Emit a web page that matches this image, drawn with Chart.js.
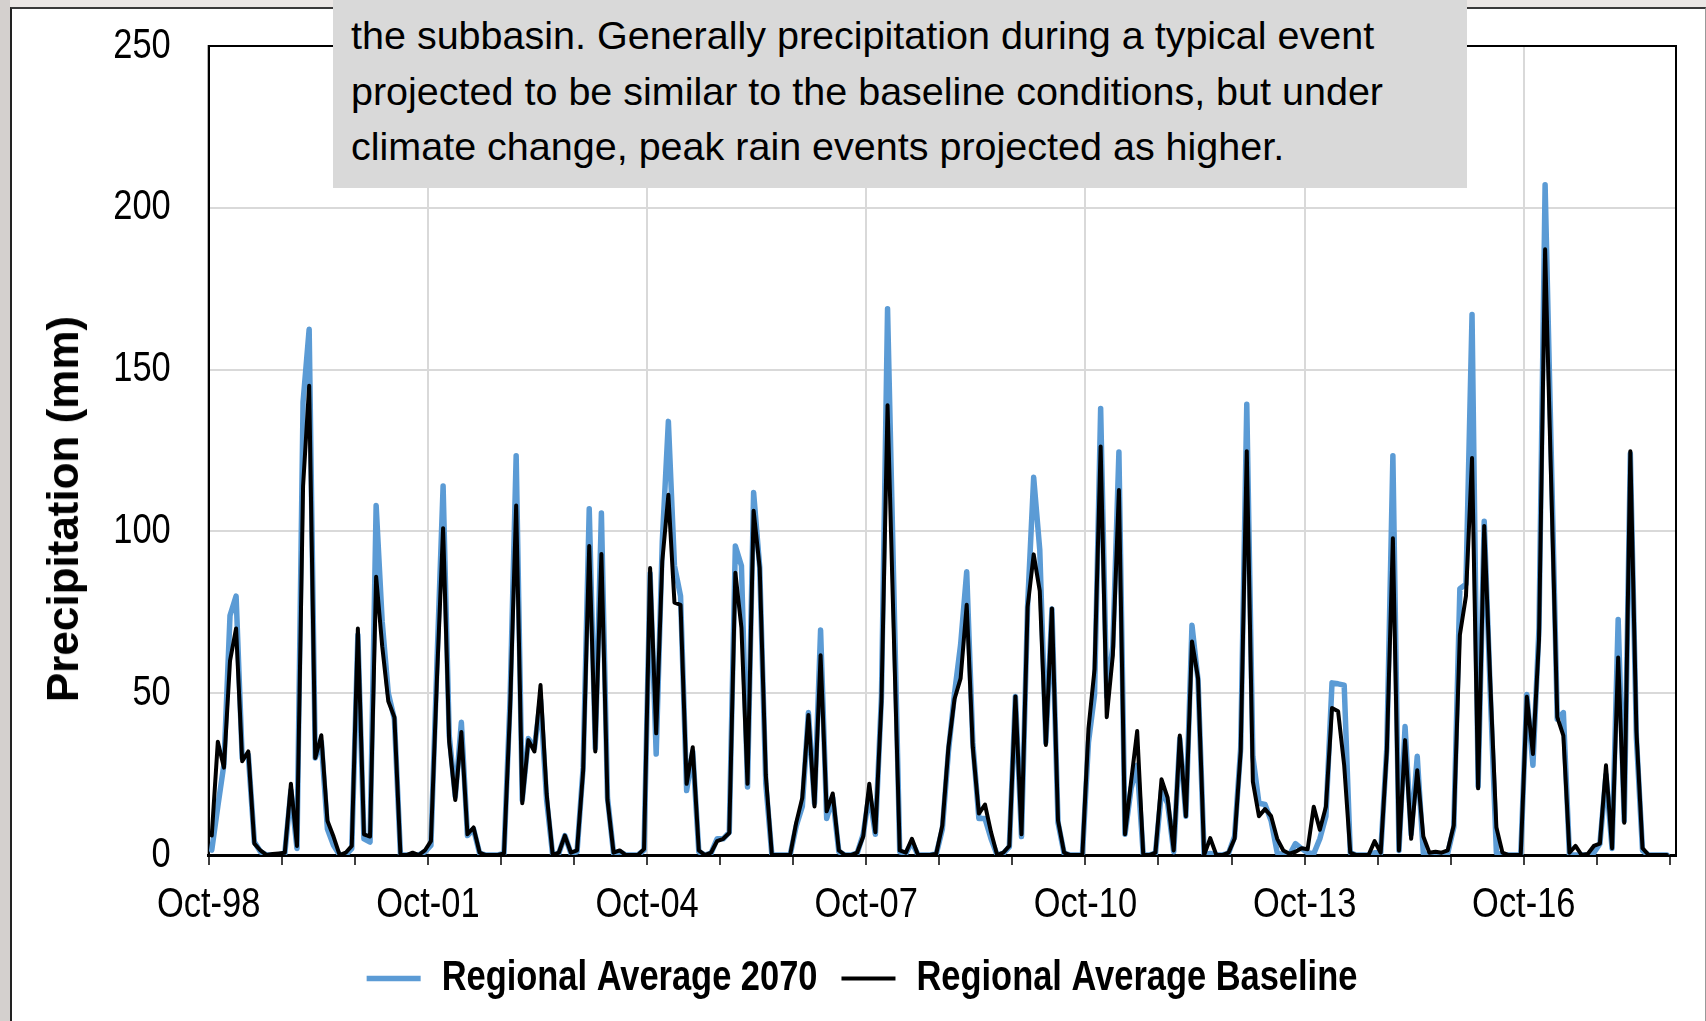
<!DOCTYPE html>
<html>
<head>
<meta charset="utf-8">
<script src="https://cdn.jsdelivr.net/npm/chart.js@4.4.1/dist/chart.umd.min.js"></script>
<style>
  html, body { margin: 0; padding: 0; }
  body { width: 1706px; height: 1021px; overflow: hidden; position: relative; background: #ebe7e5;
         font-family: 'Liberation Sans', Arial, sans-serif; }
  #panel { position: absolute; left: 10px; top: 7px; width: 1693px; height: 1100px; background: #fff;
           border-top: 2px solid #3a3a3a; border-left: 2px solid #222; border-right: 1px solid #999; }
  #strip { position: absolute; left: 0; top: 0; width: 10px; height: 1021px; background: #d4d0ce; }
  #chart { position: absolute; left: 0; top: 0; }
  #note { position: absolute; left: 333px; top: 0; width: 1134px; height: 188px; background: #d9d9d9; }
  #note div { position: absolute; left: 18px; white-space: nowrap; font-size: 39.5px; color: #000; }
  #ytitle { position: absolute; left: 63px; top: 509px; transform: translate(-50%, -50%) rotate(-90deg);
            white-space: nowrap; font-weight: bold; font-size: 44px; color: #000; }
</style>
</head>
<body>
<div id="strip"></div>
<div id="panel"></div>
<canvas id="chart" width="1706" height="1021"></canvas>
<div id="ytitle">Precipitation (mm)</div>
<div id="note">
  <div style="top:13px">the subbasin. Generally precipitation during a typical event</div>
  <div style="top:68.5px">projected to be similar to the baseline conditions, but under</div>
  <div style="top:124px">climate change, peak rain events projected as higher.</div>
</div>
<script>
'use strict';

// monthly values, Oct-98 .. Sep-18 (one water year per row)
let baseline = [
  6, 35, 27, 60, 70, 29, 32, 3.5, 1.4, 0, 0.3, 0.5,
  0.7, 22, 2.8, 114, 145, 30, 37, 10.6, 5.7, 0, 0.7, 2.8,
  70, 6.4, 5.7, 86, 64.5, 47.5, 42.6, 0, 0, 0.7, 0, 1.4,
  4.3, 55, 101, 35, 17, 38, 6.4, 8.5, 0.7, 0, 0, 0,
  0.5, 45, 108, 16, 35.5, 32, 52.5, 19, 0, 0.7, 6, 0.7,
  1.4, 26, 95.5, 32, 93, 17, 0.7, 1.4, 0, 0, 0, 1.8,
  88.7, 37.6, 90.8, 111.3, 78, 77.3, 22, 33.3, 1.4, 0, 0.7, 4.3,
  5, 6.8, 87.2, 70.2, 22, 106.4, 88.7, 24.8, 0, 0, 0, 0,
  10, 17.7, 43.3, 15, 61.7, 13.5, 19, 1.4, 0, 0, 0.7, 5.7,
  22, 7, 47.5, 139, 70, 1.4, 0.7, 5, 0, 0, 0, 0.4,
  9.2, 33.3, 48.2, 54.6, 77.3, 33.3, 12.8, 15.6, 7, 0, 0.7, 2.8,
  49, 6.4, 76.6, 92.9, 81.6, 34, 76.2, 10.6, 0.7, 0, 0, 0,
  39, 57.4, 126.2, 42.6, 61.7, 112.8, 6.4, 22.7, 38.3, 0, 0, 0.7,
  23.4, 17.7, 1.4, 36.9, 12, 66, 54.6, 0, 5.2, 0, 0, 0.7,
  5, 32, 124.8, 22.7, 12, 14.2, 12, 5, 1.4, 0.4, 1, 2.1,
  1.8, 14.9, 7.8, 14.9, 45.4, 44.4, 27.7, 0.7, 0, 0, 0, 4.3,
  0.7, 32, 97.9, 1.4, 35.5, 5, 26.2, 5.7, 0.7, 1, 0.7, 1.4,
  9.2, 68, 80, 122.7, 20.6, 101.7, 53.2, 8.5, 0.7, 0, 0, 0,
  48.9, 31.2, 66.7, 187.2, 115, 42.6, 36.9, 0.7, 2.8, 0, 0.3, 2.8,
  3.5, 27.7, 2.1, 61, 10, 124.8, 38.3, 2.1, 0, 0, 0, 0
];

let avg2070 = [
  1.5, 15, 28, 74, 80, 30, 31, 4, 1, 0, 0, 0,
  0.5, 20, 2, 140, 162.5, 30, 35, 8, 3, 0, 0, 2,
  68, 5, 4, 108, 72, 50, 42, 0, 0, 0, 0, 1,
  3, 60, 114, 37, 18, 41, 6, 8, 0.5, 0, 0, 0,
  0.5, 48, 123.4, 17, 36, 33, 48, 17, 0, 0.5, 6, 0.5,
  1, 27, 107, 33, 105.7, 17.7, 0.5, 1, 0, 0, 0, 1.5,
  87, 31.2, 97, 134, 89.4, 80, 19.9, 32, 1, 0, 0.5, 5,
  5, 7, 95.5, 89.4, 21, 112, 89, 22, 0, 0, 0, 0,
  9, 15, 44, 16, 69.5, 11.3, 17.7, 1, 0, 0, 0.5, 6.4,
  19, 6.4, 49, 168.8, 85, 1, 0.5, 4, 0, 0, 0, 0.3,
  8, 32, 50, 65, 87.5, 34.8, 11.3, 11.3, 5, 0, 0.5, 2.5,
  49, 5.7, 77, 116.7, 94.3, 34.8, 76, 10, 0.5, 0, 0, 0,
  34.8, 49.6, 138, 49, 64.5, 124.5, 6.4, 20.6, 27.7, 0, 0, 0.5,
  20, 16, 1, 36, 12, 71, 54, 0, 0.5, 0, 0, 0.5,
  5.7, 33, 139.3, 30.5, 16, 15.6, 10.6, 0.7, 0, 0, 3.5, 2,
  0.7, 0.4, 5, 12, 53.2, 52.9, 52.5, 0.7, 0, 0, 0, 0.7,
  0.7, 33, 123.4, 1.4, 39.7, 6.4, 30.5, 0.5, 0, 0, 0, 0.5,
  8.5, 82.3, 83.7, 167, 21.3, 103.1, 50, 0.7, 0, 0, 0, 0,
  49.6, 27.7, 70.2, 207.1, 125, 42, 44, 0, 0, 0, 0, 0.7,
  3.5, 24.8, 2, 72.8, 10.6, 124, 36, 1.4, 0, 0, 0, 0
];

let tickLabels = ['Oct-98', 'Oct-01', 'Oct-04', 'Oct-07', 'Oct-10', 'Oct-13', 'Oct-16'];
let yTicks = [0, 50, 100, 150, 200, 250];

Chart.defaults.font.family = "'Liberation Sans', Arial, sans-serif";
Chart.defaults.color = '#000';

let canvas = document.getElementById('chart');
let ctx = canvas.getContext('2d');

// no Arial Narrow here: squeeze the canvas text sideways instead
const SQUEEZE = 0.82;
const fillText0 = ctx.fillText;
const measureText0 = ctx.measureText;
ctx.fillText = function(text, x, y){
  this.save();
  this.translate(x, y);
  this.scale(SQUEEZE, 1);
  fillText0.call(this, text, 0, 0);
  this.restore();
};
ctx.measureText = function(text){
  const m = measureText0.call(this, text);
  return {
    width: m.width * SQUEEZE,
    actualBoundingBoxAscent: m.actualBoundingBoxAscent,
    actualBoundingBoxDescent: m.actualBoundingBoxDescent,
    actualBoundingBoxLeft: m.actualBoundingBoxLeft * SQUEEZE,
    actualBoundingBoxRight: m.actualBoundingBoxRight * SQUEEZE
  };
};

// points sit mid-month on a month-count axis
let toPoints = function(arr){
  return arr.map(function(v, i){ return {x: i + 0.5, y: v}; });
};

// black box round the plot area
const frame = {
  id: 'frame',
  beforeDatasetsDraw(chart) {
    const {ctx, chartArea: a} = chart;
    ctx.save();
    ctx.strokeStyle = '#000';
    ctx.lineWidth = 2;
    ctx.strokeRect(a.left, a.top, a.right - a.left, a.bottom - a.top);
    ctx.restore();
  }
};

new Chart(ctx, {
  type: 'line',
  data: {
    datasets: [
      {
        label: 'Regional Average 2070',
        data: toPoints(avg2070),
        borderColor: '#5b9bd5',
        backgroundColor: '#5b9bd5',
        borderWidth: 5.5,
        order: 2
      },
      {
        label: 'Regional Average Baseline',
        data: toPoints(baseline),
        borderColor: '#000',
        backgroundColor: '#000',
        borderWidth: 4,
        order: 1
      }
    ]
  },
  options: {
    responsive: false,
    animation: false,
    devicePixelRatio: 1,
    layout: { padding: { left: 48, right: 30, top: 46, bottom: 11.5 } },
    elements: {
      point: { radius: 0, hoverRadius: 0 },
      line: { tension: 0, borderCapStyle: 'round', borderJoinStyle: 'round' }
    },
    plugins: {
      tooltip: { enabled: false },
      legend: {
        position: 'bottom',
        labels: {
          usePointStyle: true,
          pointStyle: 'line',
          pointStyleWidth: 54,
          padding: 24,
          font: { size: 42, weight: 'bold' },
          sort: function(a, b){ return a.datasetIndex - b.datasetIndex; }
        }
      }
    },
    scales: {
      x: {
        type: 'linear',
        min: 0,
        max: 241,
        afterFit: function(scale){
          scale.height = 78.5;
          scale.paddingLeft = 0;
          scale.paddingRight = 0;
        },
        ticks: {
          stepSize: 12,
          maxTicksLimit: 40,
          autoSkip: false,
          includeBounds: false,
          maxRotation: 0,
          padding: 15,
          font: { size: 42 },
          callback: function(v){ return v % 36 === 0 ? tickLabels[v / 36] : ''; }
        },
        grid: {
          color: function(c){ return (c.tick && c.tick.value % 36 === 0 && c.tick.value > 0) ? '#d9d9d9' : 'rgba(0,0,0,0)'; },
          lineWidth: 2,
          tickColor: '#000',
          tickWidth: 1.5,
          tickLength: 10
        },
        border: { color: '#000', width: 3 }
      },
      y: {
        min: 0,
        max: 250,
        afterFit: function(scale){
          scale.width = 160.7;
          scale.paddingTop = 0;
          scale.paddingBottom = 0;
        },
        afterBuildTicks: function(scale){ scale.ticks = yTicks.map(function(v){ return {value: v}; }); },
        ticks: { padding: 38, font: { size: 42 } },
        grid: {
          color: function(c){ return (c.tick && (c.tick.value === 0 || c.tick.value === 250)) ? 'rgba(0,0,0,0)' : '#d9d9d9'; },
          lineWidth: 2,
          drawTicks: false
        },
        border: { color: '#000', width: 2 }
      }
    }
  },
  plugins: [frame]
});
</script>
</body>
</html>
